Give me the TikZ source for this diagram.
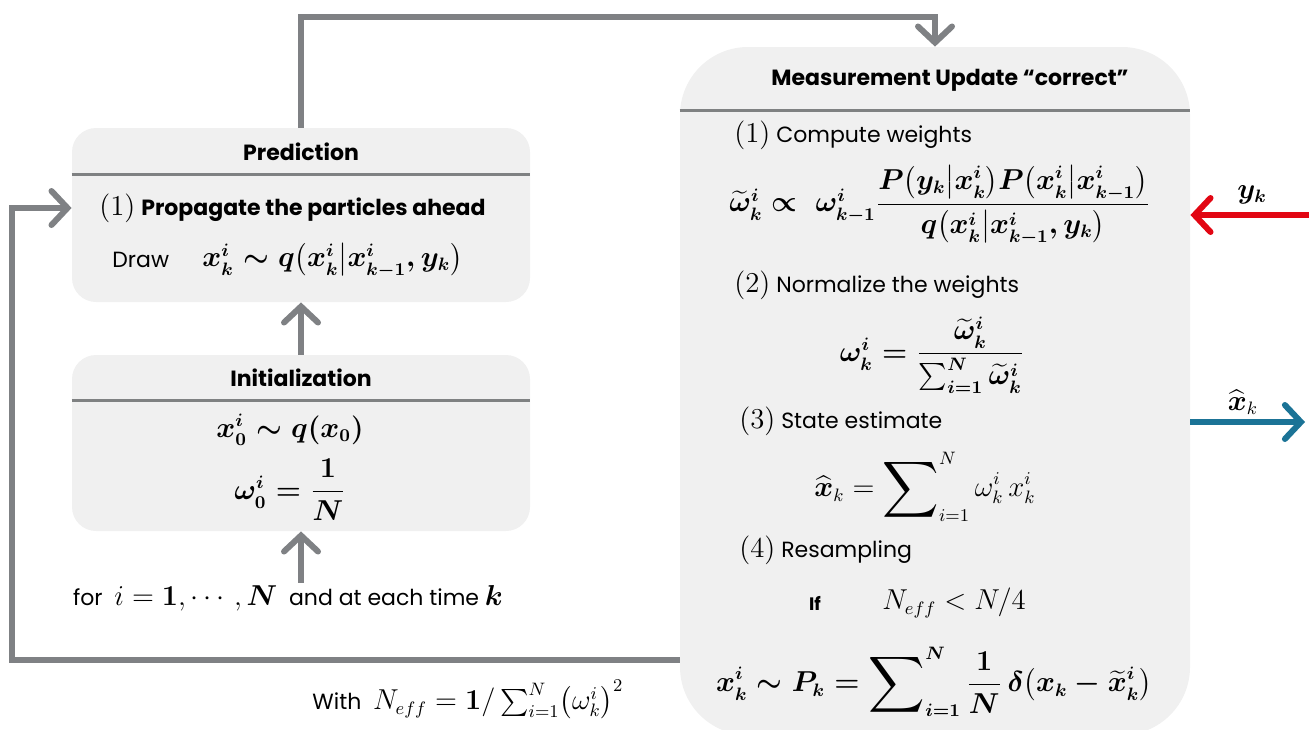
\documentclass[tikz,border=0pt]{standalone}
\usepackage{amsmath,amssymb}
\usepackage{graphicx}
\usepackage[no-math]{fontspec}
\usepackage{xcolor}
\usepackage{tikz}
\usetikzlibrary{arrows.meta,positioning,calc}
\newfontfamily\pffont{Poppins}
\newcommand{\pftextsize}{\fontsize{11}{13}\selectfont}
\newcommand{\pfmathsize}{\fontsize{13.5}{16}\selectfont}
\newcommand{\pfbar}{\big|}
\newcommand{\pfsum}{\mathop{\vcenter{\hbox{\scalebox{1.45}{$\displaystyle\sum$}}}}\nolimits}
\newcommand{\pfbsum}{\mathop{\vcenter{\hbox{\scalebox{1.45}{\boldmath$\displaystyle\sum$}}}}\nolimits}
\newcommand{\pfpredeq}{{\boldmath$x_k^i \sim q\bigl(x_k^i \pfbar x_{k-1}^i, y_k\bigr)$}}
\newcommand{\pfinitx}{{\boldmath$x_0^i \sim q(x_0)$}}
\newcommand{\pfinitw}{{\boldmath$\omega_0^i = \dfrac{1}{N}$}}
\newcommand{\pfweq}{{\boldmath$\widetilde{\omega}_k^i \propto\ \omega_{k-1}^i \dfrac{P\bigl(y_k \pfbar x_k^i\bigr)P\bigl(x_k^i \pfbar x_{k-1}^i\bigr)}{q\bigl(x_k^i \pfbar x_{k-1}^i, y_k\bigr)}$}}
\newcommand{\pfnormeq}{{\boldmath$\omega_k^i = \dfrac{\widetilde{\omega}_k^i}{\sum_{i=1}^N \widetilde{\omega}_k^i}$}}
\newcommand{\pfesteq}{$\displaystyle\widehat{\boldsymbol{x}}_k = \pfsum_{i=1}^{N} \omega_k^i\, x_k^i$}
\newcommand{\pfreseq}{{\boldmath$\displaystyle x_k^i \sim P_k = \pfbsum_{i=1}^{N} \frac{1}{N}\,\delta\bigl(x_k - \widetilde{x}_k^i\bigr)$}}
\newcommand{\pfneff}{$N_{eff} = \mathbf{1}/\sum_{i=1}^N \bigl(\omega_k^i\bigr)^2$}
\definecolor{pfgray}{HTML}{F0F0F0}
\definecolor{pfline}{HTML}{7F8182}
\definecolor{pfarrow}{HTML}{7F8184}
\definecolor{pfred}{HTML}{E20613}
\definecolor{pfblue}{HTML}{1B7396}
\tikzset{
  pfbox/.style={fill=pfgray, draw=none, inner sep=0pt},
  pfhead/.style={font=\pffont\bfseries\pftextsize, inner sep=1pt},
  pftext/.style={font=\pffont\pftextsize, inner sep=1pt},
  pfmath/.style={font=\pfmathsize, inner sep=1pt},
  pfsep/.style={draw=pfline, line width=1.5pt},
  pfflow/.style={-{Straight Barb[length=8pt,width=17pt,line cap=round]}, line width=3pt, draw=pfarrow},
  pfflowred/.style={pfflow, draw=pfred},
  pfflowblue/.style={pfflow, draw=pfblue}
}

\begin{document}
\begin{tikzpicture}[x=0.5pt, y=-0.5pt]
  \useasboundingbox (0,0) rectangle (1309,729);
  % boxes
  \node[pfbox, rounded corners=12pt, minimum width=229pt, minimum height=87pt] (pred) at (301,215) {};
  \node[pfbox, rounded corners=12pt, minimum width=229pt, minimum height=88pt] (init) at (301,443) {};
  \node[pfbox, rounded corners=34pt, minimum width=255pt, minimum height=344pt] (meas) at (935,391) {};
  \draw[pfsep] (pred.west |- 0,174) -- (pred.east |- 0,174);
  \draw[pfsep] (init.west |- 0,400) -- (init.east |- 0,400);
  \draw[pfsep] (meas.west |- 0,110) -- (meas.east |- 0,110);

  % prediction
  \node[pfhead] (predhead) at (301,152) {Prediction};
  \node[pftext, anchor=west] (prop) at (97,208) {{\pfmathsize$(1)$} \textbf{Propagate the particles ahead}};
  \node[pftext, anchor=west] (drawtxt) at (110,260) {Draw};
  \node[pfmath, anchor=west] (predeq) at (200,260) {\pfpredeq};

  % initialization
  \node[pfhead] (inithead) at (301,378) {Initialization};
  \node[pfmath] (initx) at (290,430) {\pfinitx};
  \node[pfmath] (initw) at (290,490) {\pfinitw};
  \node[pftext] (fortxt) at (288,598) {for\ \ {\pfmathsize$i = \mathbf{1},\cdots,\boldsymbol{N}$}\ \ and at each time {\pfmathsize$\boldsymbol{k}$}};

  % measurement update
  \node[pfhead] (meashead) at (950,80) {Measurement Update “correct”};
  \node[pftext, anchor=west] (step1) at (732,135) {{\pfmathsize$(1)$} Compute weights};
  \node[pfmath, anchor=west] (measeq1) at (727,205) {\pfweq};
  \node[pftext, anchor=west] (step2) at (732,285) {{\pfmathsize$(2)$}\ Normalize the weights};
  \node[pfmath] (measeq2) at (932,355) {\pfnormeq};
  \node[pftext, anchor=west] (step3) at (737,421) {{\pfmathsize$(3)$} State estimate};
  \node[pfmath] (measeq3) at (925,487) {\pfesteq};
  \node[pftext, anchor=west] (step4) at (737,550) {{\pfmathsize$(4)$} Resampling};
  \node[pfhead, font=\pffont\bfseries\small] (iftxt) at (815,603) {If};
  \node[pfmath, anchor=west] (cond) at (880,603) {$N_{eff} < N/4$};
  \node[pfmath] (measeq4) at (934,682) {\pfreseq};

  \node[pftext, anchor=west] (withtxt) at (310,700) {With\ \ {\pfmathsize\pfneff}};

  % signals
  \coordinate (yin) at (1309,215);
  \coordinate (xout) at (1305,422);
  \coordinate (loop) at (12,660);
  \node[pfmath] (ylab) at (1252,195) {{\boldmath$y_k$}};
  \node[pfmath] (xlab) at (1243,402) {$\widehat{\boldsymbol{x}}_k$};

  % connectors
  \draw[pfflow] (init.north) -- (pred.south);
  \draw[pfflow] (fortxt.north -| init.south) -- (init.south);
  \draw[pfflow] (pred.north) -- ++(0,-111) -| (meas.north);
  \draw[pfflow] (meas.west |- loop) -- (loop) |- (prop.west -| pred.west);
  \draw[pfflowred] (yin) -- (meas.east |- yin);
  \draw[pfflowblue] (meas.east |- xout) -- (xout);
\end{tikzpicture}
\end{document}
